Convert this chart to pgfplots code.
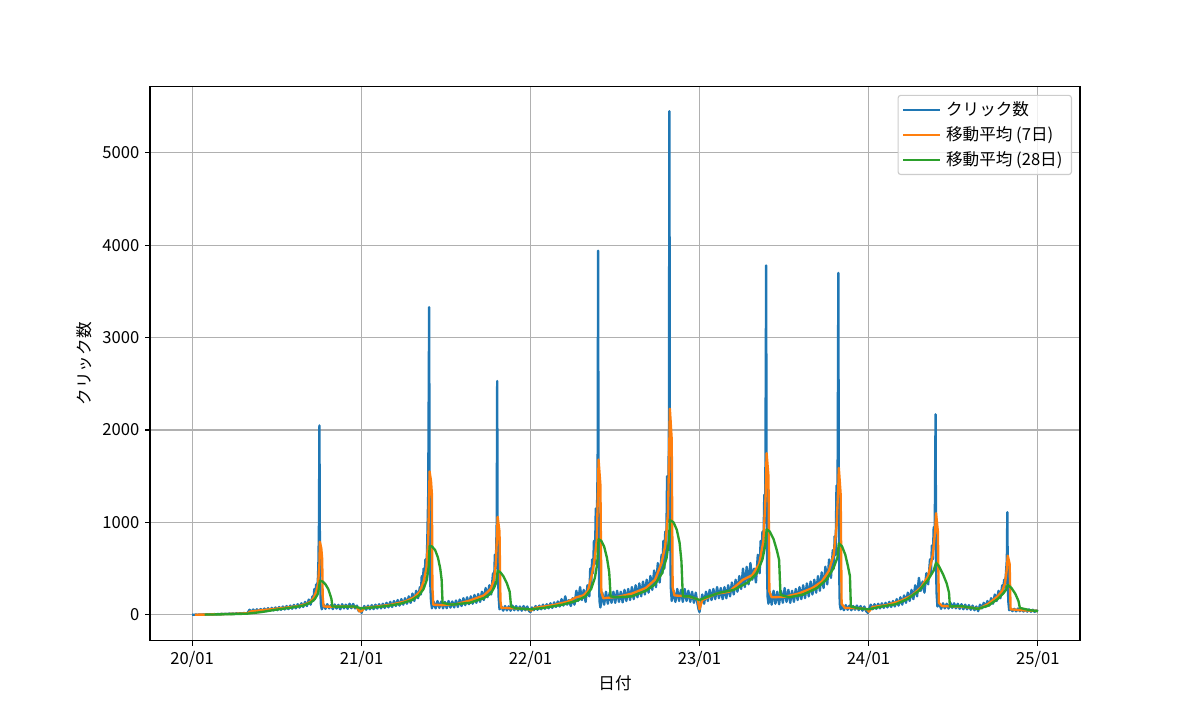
\documentclass[border=0pt]{standalone}
\usepackage{fontspec}
\setmainfont{Noto Sans CJK JP}
\usepackage{pgfplots}
\pgfplotsset{compat=1.18}
\definecolor{tabblue}{HTML}{1F77B4}
\definecolor{taborange}{HTML}{FF7F0E}
\definecolor{tabgreen}{HTML}{2CA02C}
\definecolor{gridgray}{HTML}{B0B0B0}
\definecolor{legedge}{HTML}{CCCCCC}
\begin{document}
\fontsize{12}{14}\selectfont
\begin{tikzpicture}
\useasboundingbox (0,0) rectangle (12in,7.2in);
\begin{axis}[
  at={(1.5in,0.792in)}, anchor=south west,
  width=9.3in, height=5.54in, scale only axis,
  xmin=-91, xmax=1918, ymin=-281, ymax=5714,
  xtick={0,366,731,1096,1461,1827},
  xticklabels={20/01,21/01,22/01,23/01,24/01,25/01},
  ytick={0,1000,2000,3000,4000,5000},
  scaled y ticks=false,
  /pgf/number format/assume math mode=true,
  /pgf/number format/1000 sep={},
  tick label style={font=\fontsize{12}{14}\selectfont},
  label style={font=\fontsize{12}{14}\selectfont},
  grid=major,
  major grid style={color=gridgray, line width=0.8pt},
  axis line style={line width=0.8pt},
  tick style={line width=0.8pt, black},
  tick align=outside, major tick length=3.5pt,
  tick pos=left,
  xlabel={日付}, ylabel={クリック数},
  xlabel style={at={(axis description cs:0.5,-0.076)}, anchor=center},
  ylabel style={at={(axis description cs:-0.071,0.5)}, anchor=center},
  legend cell align=left,
  legend style={at={(axis description cs:0.9914,0.9856)}, anchor=north east,
    draw=legedge, line width=0.8pt, rounded corners=2pt, fill=white, fill opacity=0.8, text opacity=1,
    font=\fontsize{12}{14}\selectfont, row sep=0pt, inner xsep=3pt, inner ysep=1.5pt,
    nodes={inner ysep=3.1pt, inner xsep=3.5pt}},
  legend image code/.code={\draw[#1, line width=1.7pt] (-0.15cm,0cm) -- (0.78cm,0cm);},
]
\addplot[tabblue, line width=1.7pt, line join=round] coordinates {
(0,2)(4,0)(8,3)(12,1)(16,4)(20,2)(24,5)(28,2)(32,6)(36,3)(40,7)(44,4)(48,8)(52,5)(56,9)(60,6)(64,11)(68,7)(72,12)(76,8)(80,14)(84,9)(88,15)(92,10)(96,17)(100,12)(104,18)(108,13)(112,20)(116,14)(120,22)
(124,55)(128,30)(132,58)(136,32)(140,60)(144,35)(148,63)(152,38)(156,68)(160,40)(164,72)(168,44)(172,75)(176,48)(180,80)(184,50)(188,85)(192,55)(196,90)(200,58)(204,95)(208,62)(212,100)(216,66)(220,108)(224,70)(228,115)(232,78)(236,125)(240,85)
(244,140)(248,95)(252,165)(256,110)(260,200)(262,150)(264,280)(266,190)(268,330)(270,250)(272,420)(273,600)(274,1000)(275,2050)(276,700)(277,300)(278,120)(280,60)
(284,110)(288,65)(292,115)(296,70)(300,105)(304,62)(308,112)(312,68)(316,108)(320,60)(324,115)(328,70)(332,110)(336,65)(340,120)(344,72)(348,118)(352,70)(356,100)(360,40)(364,60)(366,20)(368,55)
(372,95)(376,55)(380,100)(384,60)(388,105)(392,62)(396,110)(400,68)(404,115)(408,70)(412,120)(416,75)(420,130)(424,80)(428,140)(432,85)(436,150)(440,95)(444,160)(448,100)(452,170)(456,110)(460,180)(464,120)(468,200)(472,130)(476,230)(480,150)(484,260)(488,180)(492,300)(494,220)(496,420)(498,300)(500,500)(502,380)(504,600)(506,450)(508,800)(510,1300)(512,3330)(513,1200)(514,400)(516,150)(518,70)
(522,140)(526,70)(530,150)(534,75)(538,145)(542,70)(546,140)(550,72)(554,150)(558,78)(562,145)(566,80)(570,155)(574,85)(578,165)(582,95)(586,180)(590,105)(594,190)(598,115)(602,200)(606,120)(610,215)(614,130)(618,225)(622,140)(626,250)(630,160)(634,290)(638,190)(642,320)(646,220)(650,450)(652,300)(654,650)(656,500)(658,1000)(659,2530)(660,700)(662,200)(664,60)
(668,90)(672,45)(676,95)(680,48)(684,92)(688,45)(692,100)(696,50)(700,95)(704,48)(708,90)(712,45)(716,95)(720,50)(724,90)(728,40)(731,30)
(734,80)(738,50)(742,95)(746,55)(750,100)(754,60)(758,110)(762,65)(766,115)(770,70)(774,125)(778,75)(782,135)(786,85)(790,145)(794,90)(798,170)(802,100)(806,200)(810,110)
(814,160)(818,95)(822,180)(826,110)(830,260)(834,150)(838,300)(842,160)(846,270)(850,140)(854,320)(858,200)(860,500)(862,300)(864,600)(866,450)(868,800)(870,550)(872,1150)(874,900)(876,1600)(877,3940)(878,1100)(879,400)(880,150)(882,80)
(886,240)(890,110)(894,250)(898,120)(902,240)(906,130)(910,250)(914,130)(918,260)(922,140)(926,250)(930,135)(934,270)(938,150)(942,280)(946,160)(950,300)(954,170)(958,320)(962,190)(966,340)(970,200)(974,360)(978,220)(982,380)(986,240)(990,420)(994,270)(998,480)(1002,300)(1006,560)(1010,350)(1014,650)(1016,450)(1018,800)(1020,500)(1022,900)(1024,600)(1026,1500)(1028,1000)(1030,2000)(1031,5450)(1032,1800)(1033,800)(1034,300)(1036,150)
(1040,260)(1044,140)(1048,280)(1052,150)(1056,270)(1060,140)(1064,280)(1068,150)(1072,260)(1076,140)(1080,250)(1084,130)(1088,240)(1092,110)(1094,60)(1096,30)(1098,100)
(1102,220)(1106,120)(1110,250)(1114,150)(1118,270)(1122,160)(1126,280)(1130,170)(1134,300)(1138,180)(1142,290)(1146,170)(1150,300)(1154,180)(1158,320)(1162,200)(1166,350)(1170,220)(1174,380)(1178,250)(1182,420)(1186,280)(1190,500)(1194,300)(1198,520)(1202,330)(1206,560)(1210,380)(1214,500)(1218,350)(1222,650)(1226,450)(1228,800)(1230,600)(1232,900)(1234,700)(1236,1300)(1238,1000)(1240,3780)(1241,1200)(1242,500)(1243,200)(1245,120)
(1248,250)(1252,110)(1256,260)(1260,120)(1264,250)(1268,115)(1272,260)(1276,130)(1280,290)(1284,140)(1288,270)(1292,130)(1296,260)(1300,140)(1304,280)(1308,160)(1312,300)(1316,170)(1320,320)(1324,180)(1328,340)(1332,200)(1336,360)(1340,220)(1344,380)(1348,240)(1352,420)(1356,260)(1360,460)(1364,290)(1368,520)(1372,330)(1376,600)(1380,400)(1384,700)(1386,500)(1388,850)(1390,650)(1392,1400)(1394,1000)(1396,3700)(1397,1100)(1398,400)(1399,120)(1401,60)
(1404,100)(1408,50)(1412,105)(1416,55)(1420,100)(1424,50)(1428,95)(1432,55)(1436,100)(1440,50)(1444,95)(1448,45)(1452,90)(1456,40)(1460,20)(1462,60)
(1466,110)(1470,60)(1474,115)(1478,65)(1482,120)(1486,70)(1490,125)(1494,75)(1498,130)(1502,80)(1506,140)(1510,85)(1514,150)(1518,90)(1522,170)(1526,100)(1530,190)(1534,110)(1538,210)(1542,130)(1546,240)(1550,150)(1554,270)(1558,170)(1562,320)(1566,200)(1570,400)(1574,260)(1578,360)(1582,240)(1586,450)(1590,330)(1594,600)(1596,450)(1598,750)(1600,600)(1602,950)(1604,800)(1606,2170)(1607,700)(1608,250)(1610,90)
(1614,120)(1618,65)(1622,125)(1626,70)(1630,120)(1634,68)(1638,130)(1642,75)(1646,125)(1650,70)(1654,120)(1658,65)(1662,115)(1666,60)(1670,110)(1674,60)(1678,105)(1682,55)(1686,100)(1690,50)(1694,90)(1698,40)
(1702,110)(1706,70)(1710,130)(1714,85)(1718,150)(1722,100)(1726,180)(1730,120)(1734,220)(1738,150)(1742,260)(1746,180)(1750,320)(1752,230)(1754,380)(1756,300)(1758,450)(1760,600)(1761,1110)(1762,400)(1763,150)(1765,50)
(1768,70)(1772,40)(1776,65)(1780,38)(1784,68)(1788,40)(1792,62)(1796,36)(1800,60)(1804,35)(1808,58)(1812,34)(1816,55)(1820,32)(1824,50)(1827,35)
};
\addlegendentry{クリック数}
\addplot[taborange, line width=1.7pt, line join=round] coordinates {
(6,1)(30,3)(60,7)(90,11)(120,17)(125,35)(150,50)(180,65)(210,82)(230,95)(245,115)(255,140)(262,180)(268,250)(272,330)(275,550)(276,790)(279,720)(281,600)(282,200)(284,90)(300,88)(330,90)(355,85)(362,35)(366,40)(372,75)(400,90)(430,110)(460,145)(480,190)(492,250)(500,360)(506,500)(510,800)(512,1300)(513,1550)(516,1450)(518,1300)(519,300)(521,110)(540,105)(570,115)(600,155)(630,210)(645,280)(652,380)(656,550)(659,900)(660,1060)(664,900)(666,150)(668,75)(700,70)(728,60)(732,45)(740,75)(780,105)(810,140)(830,190)(845,210)(855,260)(862,400)(868,550)(874,800)(877,1400)(878,1680)(882,1400)(884,250)(888,180)(920,195)(950,230)(980,290)(1000,380)(1014,560)(1022,750)(1028,1100)(1031,1900)(1032,2230)(1036,1900)(1038,300)(1042,210)(1070,200)(1092,170)(1096,60)(1102,160)(1130,225)(1160,250)(1190,380)(1210,430)(1225,550)(1234,800)(1239,1300)(1241,1750)(1245,1500)(1247,250)(1252,190)(1280,195)(1310,230)(1340,290)(1360,360)(1375,470)(1386,650)(1392,950)(1396,1400)(1397,1590)(1401,1300)(1403,120)(1410,75)(1440,72)(1458,60)(1462,35)(1470,85)(1500,105)(1530,150)(1555,210)(1575,300)(1590,420)(1600,650)(1605,900)(1607,1100)(1611,900)(1613,130)(1620,95)(1660,90)(1695,70)(1700,65)(1720,120)(1740,200)(1750,260)(1756,340)(1760,500)(1762,640)(1766,550)(1768,60)(1790,50)(1827,42)
};
\addlegendentry{移動平均 (7日)}
\addplot[tabgreen, line width=1.7pt, line join=round] coordinates {
(27,3)(60,5)(90,8)(120,13)(150,30)(180,55)(210,75)(240,100)(255,130)(265,170)(272,230)(275,330)(276,370)(282,360)(288,330)(294,280)(298,220)(301,170)(303,90)(320,88)(350,90)(366,70)(380,75)(420,95)(450,120)(475,160)(490,210)(500,280)(507,380)(511,520)(513,745)(518,740)(525,700)(531,620)(536,500)(539,380)(541,130)(560,110)(600,130)(630,180)(645,230)(652,290)(657,350)(660,477)(666,460)(672,420)(680,340)(686,250)(689,90)(700,70)(731,60)(760,75)(800,110)(830,150)(850,200)(862,280)(870,400)(875,550)(878,818)(884,800)(890,740)(896,620)(901,460)(904,200)(915,190)(950,200)(980,260)(1000,330)(1015,450)(1025,620)(1030,800)(1032,1026)(1040,1000)(1047,920)(1053,780)(1057,580)(1060,200)(1075,200)(1096,160)(1110,190)(1140,240)(1170,270)(1200,350)(1220,450)(1232,600)(1238,750)(1241,925)(1248,900)(1256,820)(1263,700)(1268,594)(1271,216)(1290,190)(1320,220)(1350,290)(1370,380)(1385,500)(1394,620)(1397,774)(1404,740)(1411,650)(1417,520)(1421,420)(1423,90)(1440,70)(1461,60)(1490,90)(1520,115)(1545,170)(1570,260)(1590,380)(1602,480)(1607,565)(1614,520)(1622,440)(1630,340)(1635,240)(1637,90)(1660,95)(1698,65)(1720,100)(1740,170)(1752,230)(1758,270)(1762,324)(1770,290)(1778,230)(1785,150)(1788,75)(1810,50)(1827,40)
};
\addlegendentry{移動平均 (28日)}
\end{axis}
\end{tikzpicture}
\end{document}
